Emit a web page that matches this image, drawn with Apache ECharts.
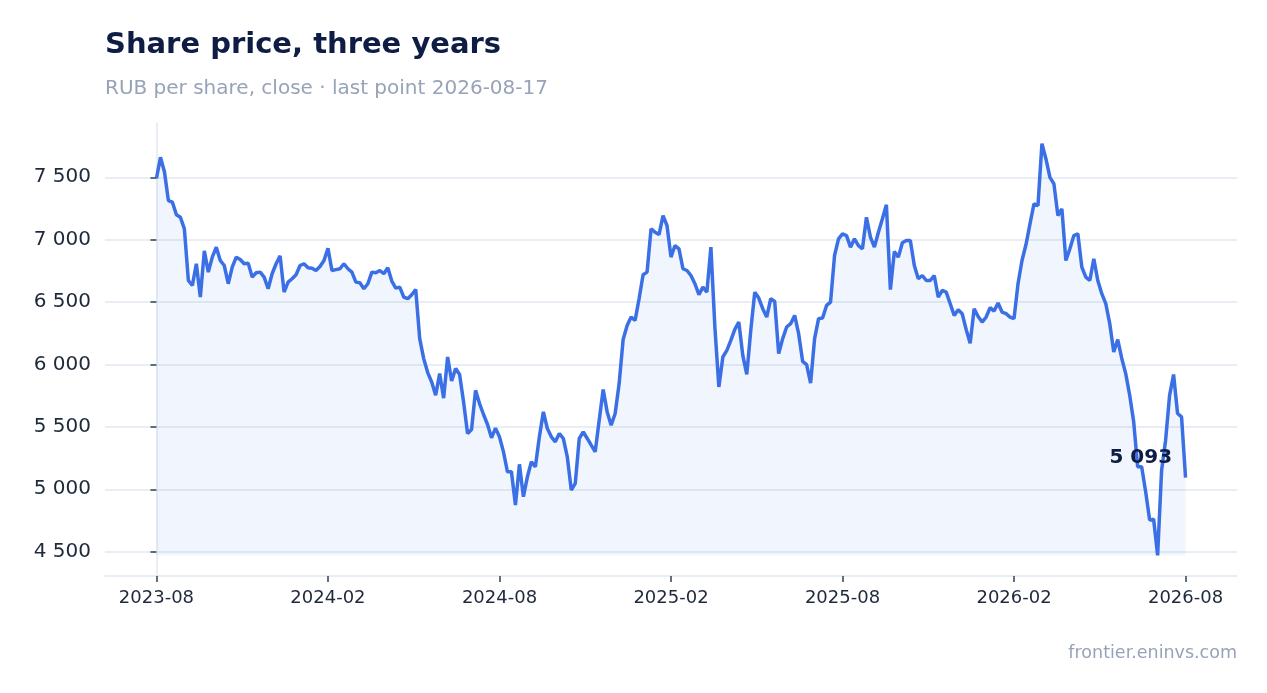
<!DOCTYPE html>
<html>
<head>
<meta charset="utf-8">
<script src="https://cdn.jsdelivr.net/npm/echarts@6/dist/echarts.min.js"></script>
<style>
html,body{margin:0;padding:0;background:#fff;}
#chart{width:1267px;height:693px;}
</style>
</head>
<body>
<div id="chart"></div>
<script>
// Tick labels on the x axis (sample index -> label)
const tickLabels = ['2023-08','2024-02','2024-08','2025-02','2025-08','2026-02','2026-08'];
const tickIndex = [0, 43, 86, 129, 172, 215, 258];
const yTicks = [4500, 5000, 5500, 6000, 6500, 7000, 7500];

// Close prices, RUB per share, sampled along the three years
const prices2023H2 = [7490,7660,7545,7313,7300,7200,7180,7087,6673,6633,6807,6540,6910,6740,6860,6940,6833,6793,6647,6780,6860,6841,6807,6812,6700,6735,6740,6700,6607,6727,6807,6870,6580,6660,6687,6719,6793,6807,6775,6772,6753,6785,6833];
const prices2024H1 = [6930,6753,6760,6767,6807,6767,6740,6660,6655,6607,6647,6740,6735,6753,6727,6775,6668,6612,6620,6540,6527,6559,6601,6207,6047,5935,5860,5753,5927,5730,6060,5868,5967,5919,5700,5447,5479,5793,5687,5599,5519,5412,5490];
const prices2024H2 = [5420,5300,5140,5140,4873,5200,4940,5100,5220,5180,5420,5620,5487,5420,5380,5447,5407,5260,4993,5047,5407,5460,5407,5353,5300,5553,5800,5620,5513,5607,5847,6200,6313,6380,6353,6527,6719,6740,7087,7060,7041,7193,7113];
const prices2025H1 = [6860,6953,6927,6767,6753,6713,6647,6560,6620,6580,6940,6300,5820,6060,6113,6193,6281,6340,6073,5920,6273,6580,6532,6447,6380,6527,6505,6087,6207,6300,6327,6393,6247,6025,5999,5850,6207,6367,6372,6473,6500,6873,7007];
const prices2025H2 = [7047,7033,6940,7007,6953,6927,7180,7020,6940,7060,7167,7280,6600,6905,6860,6975,6993,6993,6793,6687,6713,6673,6673,6713,6540,6593,6580,6487,6393,6439,6407,6280,6170,6447,6385,6340,6380,6455,6428,6492,6420,6407,6380];
const prices2026 = [6367,6647,6833,6961,7127,7287,7273,7770,7647,7500,7447,7193,7247,6833,6927,7033,7047,6780,6700,6673,6847,6673,6567,6487,6327,6100,6200,6050,5927,5753,5540,5180,5180,4980,4753,4760,4470,5153,5393,5753,5920,5607,5580,5093];

const prices = [].concat(prices2023H2, prices2024H1, prices2024H2, prices2025H1, prices2025H2, prices2026);
const n = prices.length - 1;
const dMin = Math.min.apply(null, prices), dMax = Math.max.apply(null, prices);
const pad = (dMax - dMin) * 0.05;
const fmt = v => String(Math.round(v)).replace(/\B(?=(\d{3})+(?!\d))/g, ' ');

const seriesData = prices.map((v, i) => [i, v]);

const FONT = 'DejaVu Sans';
const chart = echarts.init(document.getElementById('chart'), null, {renderer: 'canvas'});
chart.setOption({
  animation: false,
  backgroundColor: '#ffffff',
  title: [
    {text: 'Share price, three years', left: 105, top: 31, padding: 0,
     textStyle: {fontFamily: FONT, fontSize: 29, fontWeight: 'bold', color: '#0f1d45'}},
    {text: 'RUB per share, close \u00b7 last point 2026-08-17', left: 105, top: 79, padding: 0,
     textStyle: {fontFamily: FONT, fontSize: 20, fontWeight: 'normal', color: '#97a3b8'}},
    {text: 'frontier.eninvs.com', right: 30, top: 644, padding: 0,
     textStyle: {fontFamily: FONT, fontSize: 17.5, fontWeight: 'normal', color: '#97a3b8'}}
  ],
  grid: {left: 105, right: 30, top: 123, bottom: 117, containLabel: false},
  xAxis: {
    type: 'value',
    min: -n * 0.05, max: n * 1.05,
    splitLine: {show: false},
    axisLine: {show: true, lineStyle: {color: '#e2e8f0', width: 1.5}},
    axisTick: {show: true, customValues: tickIndex, length: 6, lineStyle: {color: '#334155', width: 1.5}},
    axisLabel: {
      show: true, customValues: tickIndex, margin: 13,
      fontFamily: FONT, fontSize: 18, color: '#1e293b',
      formatter: v => tickLabels[tickIndex.indexOf(Math.round(v))] || ''
    }
  },
  yAxis: {
    type: 'value',
    min: dMin - pad, max: dMax + pad,
    axisLine: {show: true, lineStyle: {color: '#e2e8f0', width: 1.5}},
    axisTick: {show: true, customValues: yTicks, length: 6, lineStyle: {color: '#334155', width: 1.5}},
    axisLabel: {
      show: true, customValues: yTicks, margin: 14,
      fontFamily: FONT, fontSize: 20, color: '#1e293b',
      formatter: v => fmt(v)
    },
    splitLine: {show: true, lineStyle: {color: '#e2e8f0', width: 1.5}}
  },
  series: [{
    type: 'line',
    data: seriesData,
    showSymbol: false,
    smooth: false,
    lineStyle: {color: '#3b6fe6', width: 3.5},
    itemStyle: {color: '#3b6fe6'},
    areaStyle: {color: 'rgba(59,111,230,0.1)', origin: dMin},
    z: 3,
    markPoint: {
      symbol: 'circle',
      symbolSize: 1,
      itemStyle: {color: 'rgba(0,0,0,0)'},
      silent: true,
      data: [{coord: [n, prices[n]], value: prices[n]}],
      label: {
        show: true, position: 'left', distance: 13, offset: [0, -20],
        formatter: p => fmt(p.value),
        fontFamily: FONT, fontSize: 20, fontWeight: 'bold', color: '#0f1d45'
      }
    }
  }]
});
</script>
</body>
</html>
